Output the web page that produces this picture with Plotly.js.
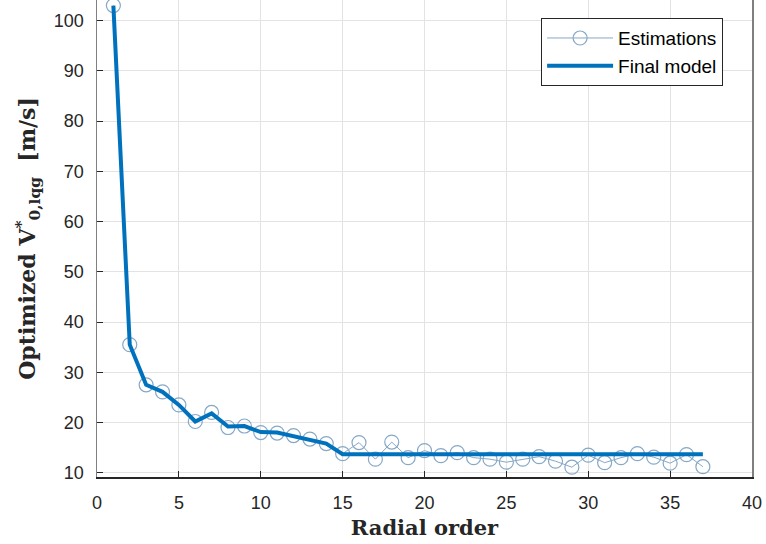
<!DOCTYPE html>
<html>
<head>
<meta charset="utf-8">
<script src="https://cdn.plot.ly/plotly-3.0.1.min.js"></script>
<style>html,body{margin:0;padding:0;background:#fff;}#chart{width:766px;height:544px;}</style>
</head>
<body>
<div id="chart"></div>
<script>
const radialOrder = [1,2,3,4,5,6,7,8,9,10,11,12,13,14,15,16,17,18,19,20,21,22,23,24,25,26,27,28,29,30,31,32,33,34,35,36,37];
const estimations = [103.0,35.5,27.5,26.1,23.5,20.2,22.0,19.0,19.3,18.0,17.9,17.4,16.7,15.8,13.8,16.0,12.7,16.1,13.0,14.4,13.4,14.0,13.0,12.7,12.1,12.7,13.2,12.3,11.1,13.5,12.0,13.0,13.8,13.1,11.9,13.6,11.2];
const finalModel = [103.0,35.5,27.5,26.1,23.5,20.2,21.8,19.2,19.3,18.1,18.0,17.3,16.6,15.8,13.7,13.7,13.7,13.7,13.7,13.7,13.7,13.7,13.7,13.7,13.7,13.7,13.7,13.7,13.7,13.7,13.7,13.7,13.7,13.7,13.7,13.7,13.7];
const xTicks = [0,5,10,15,20,25,30,35,40];
const yTicks = [10,20,30,40,50,60,70,80,90,100];

const traces = [
  {x: radialOrder, y: estimations, name: 'Estimations', mode: 'lines+markers', type: 'scatter',
   line: {color: '#86a8c6', width: 1},
   marker: {symbol: 'circle-open', size: 14, color: '#86a8c6', line: {width: 1.2, color: '#86a8c6'}},
   cliponaxis: false},
  {x: radialOrder, y: finalModel, name: 'Final model', mode: 'lines', type: 'scatter',
   line: {color: '#0072BD', width: 4}}
];

const layout = {
  width: 766, height: 544,
  margin: {l: 97, r: 14, t: 0, b: 67},
  paper_bgcolor: '#fff', plot_bgcolor: '#fff',
  font: {family: 'Liberation Sans, Arial, sans-serif', size: 18, color: '#262626'},
  showlegend: true,
  legend: {x: 0.678, xanchor: 'left', y: 0.962, yanchor: 'top', bgcolor: '#fff',
           bordercolor: '#262626', borderwidth: 1, font: {size: 19, color: '#000'},
           itemwidth: 66, tracegroupgap: 0},
  xaxis: {range: [0, 40], tickvals: xTicks, ticktext: xTicks.map(String),
          showgrid: true, gridcolor: '#e3e3e3', gridwidth: 1, zeroline: false,
          showline: true, linecolor: '#262626', linewidth: 1.5,
          ticks: 'inside', ticklen: 6, tickcolor: '#262626', ticklabelstandoff: 9,
          title: {text: '<b>Radial order</b>', font: {family: 'DejaVu Serif, serif', size: 21, color: '#262626'}, standoff: 8}},
  yaxis: {range: [9.15, 104.1], tickvals: yTicks, ticktext: yTicks.map(String),
          showgrid: true, gridcolor: '#e3e3e3', gridwidth: 1, zeroline: false,
          showline: true, linecolor: '#808080', linewidth: 1.5, mirror: true,
          ticks: 'inside', ticklen: 6, tickcolor: '#262626', ticklabelstandoff: 8,
          title: {text: '<b>Optimized V<sup>*</sup><sub>0,lqg</sub>  [m/s]</b>', font: {family: 'DejaVu Serif, serif', size: 22, color: '#262626'}, standoff: 12}}
};

Plotly.newPlot('chart', traces, layout, {displayModeBar: false, staticPlot: true});
</script>
</body>
</html>
